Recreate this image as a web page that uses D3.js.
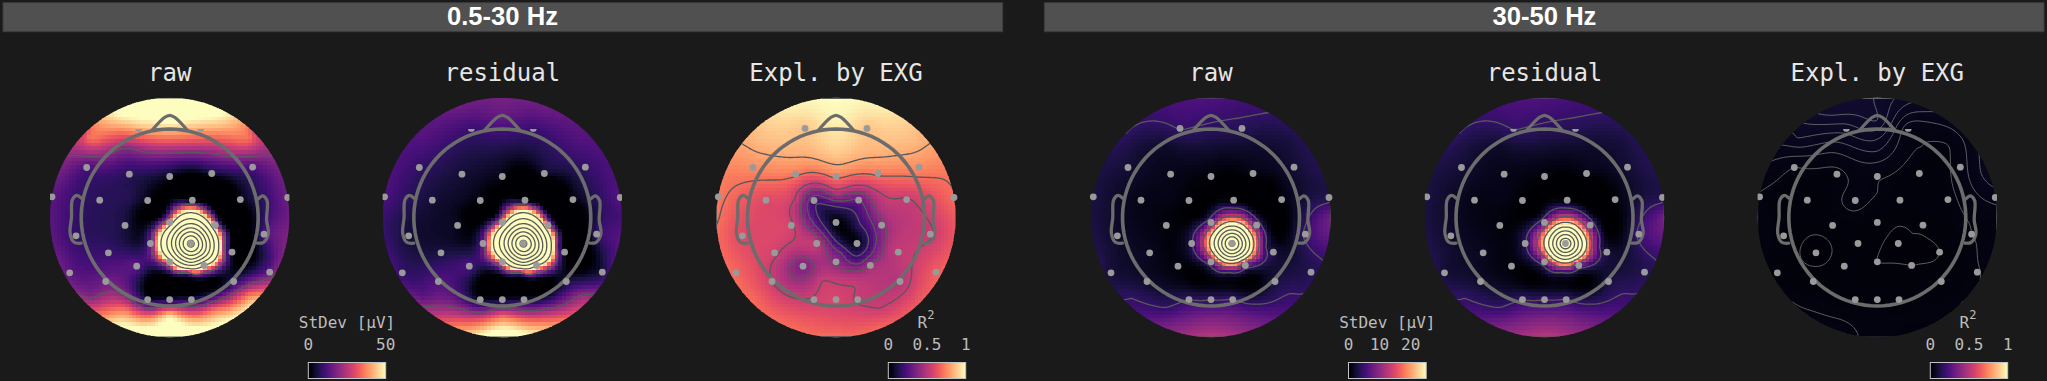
<!DOCTYPE html>
<html>
<head>
<meta charset="utf-8">
<script src="https://cdn.jsdelivr.net/npm/d3@7"></script>
<style>
  html, body { margin: 0; padding: 0; background: #1a1a1a; overflow: hidden; }
  text { font-family: 'DejaVu Sans Mono', monospace; }
</style>
</head>
<body>
<div id="chart"></div>
<script>
// channel locations, head radius = 1
const sensorX = [-0.35, 0.35, -0.938, -0.456, 0, 0.475, 0.938, -1.33, -0.791, -0.249, 0.256, 0.798, 1.333, -1.058, -0.505, 0, 0.516, 1.066, -0.693, -0.218, 0.237, 0.704, -1.13, -0.723, -0.373, 0, 0.388, 0.723, 1.13, -0.249, 0, 0.245]
const sensorY = [1.006, 1.006, 0.565, 0.49, 0.463, 0.497, 0.569, 0.234, 0.196, 0.192, 0.196, 0.203, 0.226, -0.207, -0.09, -0.056, -0.087, -0.188, -0.399, -0.294, -0.294, -0.392, -0.625, -0.723, -0.55, -0.501, -0.542, -0.723, -0.618, -0.927, -0.927, -0.927]

// extra read-off points between the channels
const innerX = [0.237, 0.07, 0.07, 0.237, 0.4, 0.4, 0.25, 0.62, 0.2, -0.15, 0.2, 0.5, -0.1, 0.5, 0.7, -0.45, 0, 0, -0.5, 0.5, 0, 0, -0.5, 0.5, -0.9, 0.9, -0.9, 0.9]
const innerY = [-0.1, -0.18, -0.4, -0.49, -0.4, -0.18, 0.12, -0.33, -0.62, -0.72, -0.78, -0.72, 0.05, 0.1, -0.15, 0.2, 0.28, 0.75, 0.8, 0.8, 1.1, -1.1, -1.05, -1.05, -0.9, -0.9, 0.9, 0.9]

// points on the map edge, degrees clockwise from the nose
const rimAngle = [0, 22.5, 45, 67.5, 90, 112.5, 135, 157.5, 180, 202.5, 225, 247.5, 270, 292.5, 315, 337.5]

const rawLow = [42, 42, 12, 8, 3, 5, 12, 14, 8, 2, 0, 2, 16, 9, 6, 40, 30, 12, 10, 15, 320, 1, 14, 16, 14, 45, 60, 8, 15, 4, 5, 7]
const rawLowInner = [165, 150, 150, 160, 170, 150, 30, 20, 20, -4, -4, -2, -2, -2, -2, 7, 0, 22, 21, 26, 52, 45, 36, 36, 19, 38, 35, 35]
const rawLowRim = [58, 55, 30, 17, 16, 18, 45, 52, 58, 52, 24, 16, 14, 17, 30, 55]

const residualLow = [10, 10, 9, 5, 2, 4, 9, 12, 5, 1, 0, 1, 13, 5, 3, 40, 30, 9, 6, 15, 320, 1, 9, 13, 12, 45, 60, 6, 6, 3, 4, 5]
const residualLowInner = [165, 150, 150, 160, 170, 150, 30, 20, 20, -4, -4, -2, -2, -2, -2, 3, 0, 6, 8, 8, 14, 32, 22, 22, 14, 22, 13, 13]
const residualLowRim = [17, 16, 13, 12, 11, 12, 25, 42, 58, 38, 18, 11, 10, 12, 13, 16]

const explainedLow = [0.88, 0.88, 0.76, 0.72, 0.72, 0.72, 0.76, 0.72, 0.6, 0.22, 0.3, 0.54, 0.69, 0.6, 0.57, 0.03, 0.4, 0.54, 0.57, 0.53, 0.03, 0.52, 0.68, 0.55, 0.35, 0.4, 0.45, 0.5, 0.66, 0.56, 0.58, 0.54]
const explainedLowInner = [0.15, 0.02, 0.3, 0.25, 0.3, 0.25, 0.25, 0.5, 0.45, 0.55, 0.55, 0.5, 0.1, 0.48, 0.5, 0.53, 0.5, 0.9, 0.86, 0.86, 0.98, 0.6, 0.62, 0.56, 0.67, 0.62, 0.86, 0.86]
const explainedLowRim = [1, 0.97, 0.85, 0.72, 0.65, 0.66, 0.66, 0.68, 0.69, 0.69, 0.69, 0.69, 0.71, 0.74, 0.85, 0.97]

const rawHigh = [4.6, 3.7, 2.5, 1.2, 0.5, 1, 2.5, 3, 1, 0.3, 0.5, 0.5, 3.5, 2, 0.7, 8, 8, 5, 1.5, 4, 72, 3, 2.5, 2, 0.7, 8, 8, 3, 3.5, 4.4, 4.4, 4.6]
const rawHighInner = [32, 30, 30, 30, 32, 30, 3.5, 4.5, 4.5, 0, 1, 0, 0, 0, 0, 1, 0, 2, 2, 2, 4.7, 8, 5, 6, 4.4, 4.8, 3.5, 3]
const rawHighRim = [6, 5, 3.7, 3.5, 8, 4.2, 5, 9, 12.5, 9, 4.7, 3.5, 3, 3, 4.5, 5.5]

const residualHigh = [4.6, 3.7, 2.5, 1.2, 0.5, 1, 2.5, 3, 1, 0.3, 0.5, 0.5, 3.5, 2, 0.7, 8, 8, 5, 1.5, 4, 68, 3, 2.5, 2, 0.7, 8, 8, 3, 3.5, 4.4, 4.4, 4.6]
const residualHighInner = [30, 28, 28, 28, 30, 28, 3.5, 4.5, 4.5, 0, 1, 0, 0, 0, 0, 1, 0, 2, 2, 2, 4.7, 8, 5, 6, 4.4, 4.8, 3.5, 3]
const residualHighRim = [6, 5, 3.7, 3.5, 8, 4.2, 5, 9, 12.5, 9, 4.7, 3.5, 3, 3, 4.5, 5.5]

const explainedHigh = [0.065, 0.034, 0.03, 0.027, 0.031, 0.025, 0.035, 0.029, 0.026, 0.033, 0.024, 0.027, 0.045, 0.026, 0.024, 0.023, 0.021, 0.03, 0.016, 0.024, 0.018, 0.02, 0.026, 0.025, 0.024, 0.02, 0.02, 0.024, 0.029, 0.026, 0.026, 0.026]
const explainedHighInner = [0.02, 0.021, 0.0195, 0.0195, 0.019, 0.02, 0.023, 0.019, 0.022, 0.024, 0.024, 0.024, 0.027, 0.024, 0.024, 0.029, 0.03, 0.05, 0.045, 0.03, 0.08, 0.028, 0.028, 0.028, 0.028, 0.028, 0.06, 0.035]
const explainedHighRim = [0.078, 0.055, 0.045, 0.055, 0.032, 0.033, 0.03, 0.027, 0.028, 0.033, 0.03, 0.028, 0.029, 0.036, 0.06, 0.088]

const levelsLow = [20, 60, 100, 140, 180, 220, 260, 300]
const levelsHigh = [4.5, 13.5, 22.5, 31.5, 40.5, 49.5, 58.5, 67.5]
const levelsExplainedLow = [0.19, 0.31, 0.43, 0.55, 0.7, 0.82]
const levelsExplainedHigh = [0.02, 0.03, 0.04, 0.05, 0.06, 0.07, 0.08]

const bandLabels = ['0.5-30 Hz', '30-50 Hz']
const panelTitles = ['raw', 'residual', 'Expl. by EXG']

const width = 2047
const height = 381
const mapRadius = 119.7
const headRadius = 88.5
const headEdge = mapRadius / headRadius
const gridSize = 64
const fineSize = 160
const mapY = 217.5

const panels = [
  { cx: 169.7, title: 0, values: rawLow, inner: rawLowInner, rim: rawLowRim, max: 50, levels: levelsLow, front: true },
  { cx: 502.3, title: 1, values: residualLow, inner: residualLowInner, rim: residualLowRim, max: 50, levels: levelsLow, front: true },
  { cx: 836, title: 2, values: explainedLow, inner: explainedLowInner, rim: explainedLowRim, max: 1, levels: levelsExplainedLow },
  { cx: 1211, title: 0, values: rawHigh, inner: rawHighInner, rim: rawHighRim, max: 25, levels: levelsHigh },
  { cx: 1544.5, title: 1, values: residualHigh, inner: residualHighInner, rim: residualHighRim, max: 25, levels: levelsHigh, front: true },
  { cx: 1877.3, title: 2, values: explainedHigh, inner: explainedHighInner, rim: explainedHighRim, max: 1, levels: levelsExplainedHigh, front: true, thin: true }
]

const bars = [
  { x0: 308.3, x1: 385.7, max: 50, ticks: [0, 50], label: 'StDev [µV]' },
  { x0: 888.3, x1: 965.7, max: 1, ticks: [0, 0.5, 1], label: 'R' },
  { x0: 1348.5, x1: 1426.2, max: 25, ticks: [0, 10, 20], label: 'StDev [µV]' },
  { x0: 1930.3, x1: 2007.7, max: 1, ticks: [0, 0.5, 1], label: 'R' }
]

const svg = d3
  .select('#chart')
  .append('svg')
  .attr('width', width)
  .attr('height', height)
  .style('display', 'block')

const defs = svg.append('defs')

defs
  .append('linearGradient')
  .attr('id', 'magma-bar')
  .selectAll('stop')
  .data(d3.range(0, 1.01, 0.05))
  .enter()
  .append('stop')
  .attr('offset', d => d)
  .attr('stop-color', d => d3.interpolateMagma(d))

// band headers
svg
  .selectAll('.band')
  .data(bandLabels)
  .enter()
  .append('rect')
  .attr('class', 'band')
  .attr('x', (d, i) => (i === 0 ? 3 : 1044.3))
  .attr('y', 2.7)
  .attr('width', 999.7)
  .attr('height', 29)
  .attr('fill', '#505050')
  .attr('stroke', '#3c3c3c')
  .attr('stroke-width', 1)

svg
  .selectAll('.band-label')
  .data(bandLabels)
  .enter()
  .append('text')
  .attr('class', 'band-label')
  .attr('x', (d, i) => (i === 0 ? 502.5 : 1544.5))
  .attr('y', 24.5)
  .attr('text-anchor', 'middle')
  .attr('fill', '#ffffff')
  .attr('font-weight', 'bold')
  .attr('font-size', 25.6)
  .style('font-family', "'Liberation Sans', Arial, sans-serif")
  .text(d => d)

// radial spline through the read-off points
function fitSpline(xs, ys, vs) {
  const n = xs.length
  const size = n + 3
  const a = d3.range(size).map(() => new Array(size + 1).fill(0))
  for (let i = 0; i < n; i++) {
    for (let j = 0; j < n; j++) {
      a[i][j] = kernel(xs[i] - xs[j], ys[i] - ys[j])
    }
    a[i][n] = a[n][i] = 1
    a[i][n + 1] = a[n + 1][i] = xs[i]
    a[i][n + 2] = a[n + 2][i] = ys[i]
    a[i][size] = vs[i]
  }
  for (let c = 0; c < size; c++) {
    let p = c
    for (let r = c + 1; r < size; r++) {
      if (Math.abs(a[r][c]) > Math.abs(a[p][c])) p = r
    }
    const t = a[c]
    a[c] = a[p]
    a[p] = t
    for (let r = 0; r < size; r++) {
      if (r === c) continue
      const f = a[r][c] / a[c][c]
      if (f === 0) continue
      for (let k = c; k <= size; k++) a[r][k] -= f * a[c][k]
    }
  }
  const w = a.map((row, i) => row[size] / row[i])
  return function(x, y) {
    let v = w[n] + w[n + 1] * x + w[n + 2] * y
    for (let i = 0; i < n; i++) v += w[i] * kernel(x - xs[i], y - ys[i])
    return v
  }
}

function kernel(dx, dy) {
  return Math.pow(dx * dx + dy * dy, 0.75)
}

const rimX = rimAngle.map(d => headEdge * Math.sin((d * Math.PI) / 180))
const rimY = rimAngle.map(d => headEdge * Math.cos((d * Math.PI) / 180))

// head outline, head radius = 1
const circlePoints = d3.range(0, 361, 4).map(d => [Math.sin((d * Math.PI) / 180), Math.cos((d * Math.PI) / 180)])
const nosePoints = [[-0.2, 0.985], [-0.06, 1.13], [0, 1.155], [0.06, 1.13], [0.2, 0.985]]
const earLeft = [[-1.0, 0.22], [-1.05, 0.25], [-1.1, 0.2], [-1.11, 0], [-1.125, -0.18], [-1.08, -0.28], [-1.0, -0.29]]
const earRight = [[1.0, 0.21], [1.05, 0.245], [1.1, 0.19], [1.095, -0.03], [1.115, -0.18], [1.06, -0.28], [0.99, -0.29]]

panels.forEach((panel, p) => {
  const x = d3.scaleLinear().domain([-1, 1]).range([panel.cx - headRadius, panel.cx + headRadius])
  const y = d3.scaleLinear().domain([-1, 1]).range([mapY + headRadius, mapY - headRadius])
  const color = d3.scaleSequential(d3.interpolateMagma).domain([0, panel.max]).clamp(true)

  const field = fitSpline(
    sensorX.concat(innerX, rimX),
    sensorY.concat(innerY, rimY),
    panel.values.concat(panel.inner, panel.rim)
  )

  const g = svg.append('g').attr('class', 'panel')

  defs
    .append('clipPath')
    .attr('id', 'map-' + p)
    .append('circle')
    .attr('cx', panel.cx)
    .attr('cy', mapY)
    .attr('r', mapRadius)

  g.append('text')
    .attr('x', panel.cx)
    .attr('y', 80.5)
    .attr('text-anchor', 'middle')
    .attr('font-size', 24)
    .attr('fill', '#e6e6e6')
    .text(panelTitles[panel.title])

  const clipped = g.append('g').attr('clip-path', 'url(#map-' + p + ')')

  // coarse cells like the original image
  const step = (2 * headEdge) / gridSize
  const cells = []
  for (let j = 0; j < gridSize; j++) {
    for (let i = 0; i < gridSize; i++) {
      const u = -headEdge + (i + 0.5) * step
      const v = headEdge - (j + 0.5) * step
      if (u * u + v * v < (headEdge + step) * (headEdge + step)) cells.push({ u, v, value: field(u, v) })
    }
  }
  const cellSize = x(step) - x(0)
  clipped
    .append('g')
    .attr('shape-rendering', 'crispEdges')
    .selectAll('rect')
    .data(cells)
    .enter()
    .append('rect')
    .attr('x', d => x(d.u) - cellSize / 2)
    .attr('y', d => y(d.v) - cellSize / 2)
    .attr('width', cellSize + 0.6)
    .attr('height', cellSize + 0.6)
    .attr('fill', d => color(d.value))

  // contour lines from a finer sampling of the same field
  const fine = new Float64Array(fineSize * fineSize)
  const fineStep = (2 * headEdge) / fineSize
  for (let j = 0; j < fineSize; j++) {
    for (let i = 0; i < fineSize; i++) {
      fine[j * fineSize + i] = field(-headEdge + (i + 0.5) * fineStep, headEdge - (j + 0.5) * fineStep)
    }
  }
  const contours = d3.contours().size([fineSize, fineSize]).thresholds(panel.levels)(fine)
  const gx = d3.scaleLinear().domain([0, fineSize]).range([panel.cx - mapRadius, panel.cx + mapRadius])
  const gy = d3.scaleLinear().domain([0, fineSize]).range([mapY - mapRadius, mapY + mapRadius])
  const contourPath = d3.geoPath(
    d3.geoTransform({
      point: function(a, b) {
        this.stream.point(gx(a), gy(b))
      }
    })
  )
  clipped
    .append('g')
    .selectAll('path')
    .data(contours)
    .enter()
    .append('path')
    .attr('d', contourPath)
    .attr('fill', 'none')
    .attr('stroke', panel.thin ? '#7a7a7a' : '#585858')
    .attr('stroke-width', panel.thin ? 0.8 : 1.3)

  // head, nose, ears
  const outline = d3
    .line()
    .x(d => x(d[0]))
    .y(d => y(d[1]))
  const curved = d3
    .line()
    .x(d => x(d[0]))
    .y(d => y(d[1]))
    .curve(d3.curveCatmullRom)

  const head = g
    .append('g')
    .attr('fill', 'none')
    .attr('stroke', '#6c6c6c')
    .attr('stroke-linejoin', 'round')
    .attr('stroke-linecap', 'round')
  head.append('path').attr('d', outline(circlePoints)).attr('stroke-width', 3.6)
  head.append('path').attr('d', curved(nosePoints)).attr('stroke-width', 3.3)
  head.append('path').attr('d', curved(earLeft)).attr('stroke-width', 3.3)
  head.append('path').attr('d', curved(earRight)).attr('stroke-width', 3.3)

  // frontal channels are cut at the head line in some of the maps
  const dots = g.append('g')
  if (panel.front) {
    defs
      .append('clipPath')
      .attr('id', 'front-' + p)
      .append('rect')
      .attr('x', panel.cx - mapRadius)
      .attr('y', y(1.0))
      .attr('width', 2 * mapRadius)
      .attr('height', 2 * mapRadius)
    dots.attr('clip-path', 'url(#front-' + p + ')')
  }
  dots
    .selectAll('circle')
    .data(sensorX)
    .enter()
    .append('circle')
    .attr('cx', d => x(d))
    .attr('cy', (d, i) => y(sensorY[i]))
    .attr('r', 3.4)
    .attr('fill', '#9a9a9a')
})

// colour bars
bars.forEach(bar => {
  const scale = d3.scaleLinear().domain([0, bar.max]).range([bar.x0, bar.x1])
  const g = svg.append('g').attr('class', 'legend')

  g.append('rect')
    .attr('x', bar.x0)
    .attr('y', 362.5)
    .attr('width', bar.x1 - bar.x0)
    .attr('height', 16)
    .attr('fill', 'url(#magma-bar)')
    .attr('stroke', '#c4c4c4')
    .attr('stroke-width', 1)

  g.selectAll('.tick-label')
    .data(bar.ticks)
    .enter()
    .append('text')
    .attr('class', 'tick-label')
    .attr('x', d => scale(d))
    .attr('y', 350)
    .attr('text-anchor', 'middle')
    .attr('font-size', 16)
    .attr('fill', '#bdbdbd')
    .text(d => d)

  const label = g
    .append('text')
    .attr('x', (bar.x0 + bar.x1) / 2 + (bar.label === 'R' ? -1 : 0))
    .attr('y', 327.5)
    .attr('text-anchor', 'middle')
    .attr('font-size', 16)
    .attr('fill', '#bdbdbd')
    .text(bar.label)
  if (bar.label === 'R') {
    label
      .append('tspan')
      .attr('dy', -9)
      .attr('font-size', 12)
      .text('2')
  }
})
</script>
</body>
</html>
